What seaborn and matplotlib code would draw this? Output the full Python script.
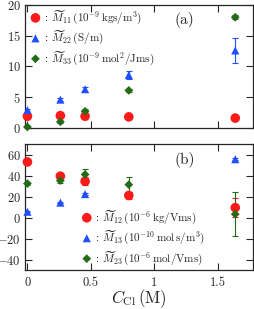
import numpy as np
import pandas as pd
import matplotlib
matplotlib.use("Agg")
import matplotlib.pyplot as plt
import seaborn as sns

# concentrations (M)
c_cl = [0.0, 0.26, 0.455, 0.80, 1.64]

# panel (a)
m11 = [1.9, 2.0, 1.9, 1.8, 1.6]
m11_err = [0.1, 0.1, 0.1, 0.1, 0.1]
m22 = [2.9, 4.6, 6.3, 8.6, 12.6]
m22_err = [0.2, 0.2, 0.4, 0.7, 2.0]
m33 = [0.16, 1.0, 2.7, 6.1, 18.0]
m33_err = [0.1, 0.2, 0.3, 0.2, 0.3]

# panel (b)
m12 = [52.9, 39.4, 34.5, 21.0, 9.4]
m12_err = [1.5, 2.0, 4.0, 3.0, 9.0]
m13 = [5.5, 14.2, 22.3, np.nan, 55.5]
m13_err = [0.5, 0.5, 1.0, np.nan, 1.0]
m23 = [32.3, 35.2, 41.0, 31.3, 3.2]
m23_err = [1.5, 2.0, 5.5, 7.0, 21.0]

labels_a = [r"$\mathbf{:}\,\widetilde{M}_{11}\,(10^{-9}\,\mathrm{kgs/m^3})$",
            r"$\mathbf{:}\,\widetilde{M}_{22}\,(\mathrm{S/m})$",
            r"$\mathbf{:}\,\widetilde{M}_{33}\,(10^{-9}\,\mathrm{mol^2/Jms})$"]
labels_b = [r"$\mathbf{:}\,\widetilde{M}_{12}\,(10^{-6}\,\mathrm{kg/Vms})$",
            r"$\mathbf{:}\,\widetilde{M}_{13}\,(10^{-10}\,\mathrm{mol\,s/m^3})$",
            r"$\mathbf{:}\,\widetilde{M}_{23}\,(10^{-6}\,\mathrm{mol/Vms})$"]

colors = ["#ff1a1a", "#1f4fff", "#246b17"]
markers = ["o", "^", "D"]
sizes = [48, 34, 20]

sns.set_style("ticks")
plt.rcParams["font.family"] = "serif"
plt.rcParams["font.serif"] = ["cmr10", "DejaVu Serif"]
plt.rcParams["mathtext.fontset"] = "cm"
plt.rcParams["axes.formatter.use_mathtext"] = True
plt.rcParams["font.size"] = 9

fig = plt.figure(figsize=(2.54, 3.09), dpi=100)
ax1 = fig.add_axes([0.098, 0.586, 0.898, 0.398])
ax2 = fig.add_axes([0.098, 0.126, 0.898, 0.408])


def draw(ax, series, errs, labels):
    for y, e, lab, col, mk, s in zip(series, errs, labels, colors, markers, sizes):
        df = pd.DataFrame({"x": c_cl, "y": y, "e": e}).dropna()
        ax.errorbar(df["x"], df["y"], yerr=df["e"], fmt="none", ecolor=col,
                    elinewidth=0.8, capsize=2.5, capthick=0.8, zorder=2)
        sns.scatterplot(data=df, x="x", y="y", ax=ax, color=col, marker=mk,
                        s=s, edgecolor="none", label=lab, zorder=3,
                        clip_on=False)


draw(ax1, [m11, m22, m33], [m11_err, m22_err, m33_err], labels_a)
draw(ax2, [m12, m13, m23], [m12_err, m13_err, m23_err], labels_b)

for ax in (ax1, ax2):
    ax.set_xlim(-0.02, 1.78)
    ax.set_xticks([0, 0.5, 1, 1.5])
    ax.tick_params(direction="in", top=True, right=True, length=5, width=0.8,
                   labelsize=9, pad=3)
    for sp in ax.spines.values():
        sp.set_linewidth(0.9)
    ax.set_xlabel("")
    ax.set_ylabel("")

ax1.set_ylim(0, 20)
ax1.set_yticks([0, 5, 10, 15, 20])
ax1.set_xticklabels([])
ax2.set_ylim(-50, 70)
ax2.set_yticks([-40, -20, 0, 20, 40, 60])
ax2.set_xticklabels(["0", "0.5", "1", "1.5"])
ax2.tick_params(axis="x", pad=5)
ax2.set_xlabel(r"$C_{\mathrm{Cl}}\,(\mathrm{M})$", fontsize=12, labelpad=-1)

ax1.text(0.655, 0.88, "(a)", transform=ax1.transAxes, fontsize=11,
         ha="left", va="center")
ax2.text(0.655, 0.87, "(b)", transform=ax2.transAxes, fontsize=11,
         ha="left", va="center")

leg_kw = dict(frameon=False, fontsize=8, handletextpad=0.0, labelspacing=0.25,
              borderpad=0.2, handlelength=1.3, borderaxespad=0.1)
ax1.legend(loc="upper left", **leg_kw)
ax2.legend(loc="lower left", bbox_to_anchor=(0.225, 0.0), **leg_kw)

fig.savefig("out.png", dpi=100)
